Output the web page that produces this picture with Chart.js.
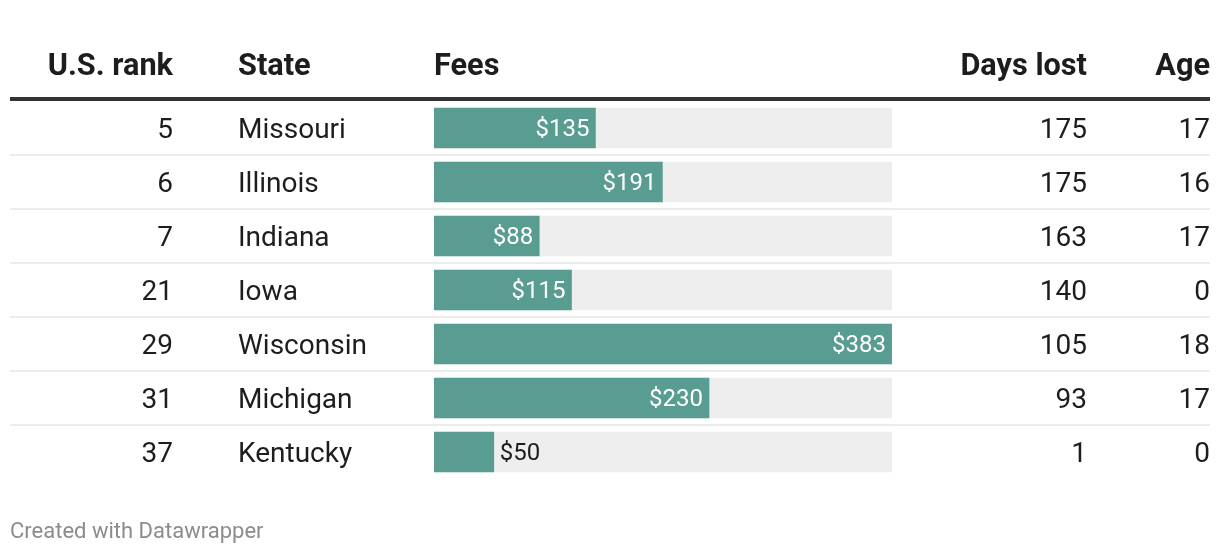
<!DOCTYPE html>
<html>
<head>
<meta charset="utf-8">
<script src="https://cdn.jsdelivr.net/npm/chart.js@4"></script>
<style>
  html, body { margin: 0; padding: 0; background: #fff; }
  #wrap { width: 1220px; height: 554px; position: relative; }
</style>
</head>
<body>
<div id="wrap"><canvas id="myChart"></canvas></div>
<script>
'use strict';
// table data
const ranks = [5, 6, 7, 21, 29, 31, 37];
const states = ['Missouri', 'Illinois', 'Indiana', 'Iowa', 'Wisconsin', 'Michigan', 'Kentucky'];
const fees = [135, 191, 88, 115, 383, 230, 50];
const daysLost = [175, 175, 163, 140, 105, 93, 1];
const ages = [17, 16, 17, 0, 18, 17, 0];
const headers = ['U.S. rank', 'State', 'Fees', 'Days lost', 'Age'];

const feeMax = Math.max(...fees);
const trackValues = fees.map(() => feeMax);

const green = '#599c91';
const font = 'Roboto, "Noto Sans", sans-serif';

// draws header, other columns, row rules and footer round the bar column
const tablePlugin = {
  id: 'tableText',
  beforeDatasetsDraw(chart) {
    const ctx = chart.ctx;
    const y = chart.scales.y;
    const step = y.getPixelForValue(1) - y.getPixelForValue(0);
    ctx.save();
    ctx.fillStyle = '#ececec';
    for (let i = 1; i < states.length; i++) {
      let ly = Math.round(y.getPixelForValue(i) - step / 2);
      ctx.fillRect(10, ly - 1, 1200, 2);
    }
    ctx.fillStyle = '#333';
    ctx.fillRect(10, Math.round(y.getPixelForValue(0) - step / 2) - 4, 1200, 4);
    ctx.restore();
  },
  afterDraw(chart) {
    const ctx = chart.ctx;
    const x = chart.scales.x;
    const y = chart.scales.y;
    ctx.save();
    // header
    ctx.fillStyle = '#1d1d1d';
    ctx.font = 'bold 30.7px ' + font;
    ctx.textBaseline = 'alphabetic';
    ctx.textAlign = 'right';
    ctx.fillText(headers[0], 173, 75);
    ctx.textAlign = 'left';
    ctx.fillText(headers[1], 238, 75);
    ctx.fillText(headers[2], 434, 75);
    ctx.textAlign = 'right';
    ctx.fillText(headers[3], 1087, 75);
    ctx.fillText(headers[4], 1210, 75);

    // rows
    ctx.font = '28px ' + font;
    for (let i = 0; i < states.length; i++) {
      let cy = y.getPixelForValue(i) + 10;
      ctx.fillStyle = '#1d1d1d';
      ctx.textAlign = 'right';
      ctx.fillText(String(ranks[i]), 173, cy);
      ctx.fillText(String(daysLost[i]), 1087, cy);
      ctx.fillText(String(ages[i]), 1210, cy);
      ctx.textAlign = 'left';
      ctx.fillText(states[i], 238, cy);
    }

    // bar labels, inside the bar when there is room
    ctx.font = '24px ' + font;
    for (let i = 0; i < fees.length; i++) {
      let cy = y.getPixelForValue(i) + 8;
      let end = x.getPixelForValue(fees[i]);
      let label = '$' + fees[i];
      let w = ctx.measureText(label).width;
      if (end - x.getPixelForValue(0) > w + 24) {
        ctx.fillStyle = '#ffffff';
        ctx.textAlign = 'right';
        ctx.fillText(label, end - 6, cy);
      } else {
        ctx.fillStyle = '#1d1d1d';
        ctx.textAlign = 'left';
        ctx.fillText(label, end + 6, cy);
      }
    }

    // footer
    ctx.font = '22px ' + font;
    ctx.fillStyle = '#8c8c8c';
    ctx.textAlign = 'left';
    ctx.fillText('Created with Datawrapper', 10, 538);
    ctx.restore();
  }
};

const ctx = document.getElementById('myChart').getContext('2d');
const myChart = new Chart(ctx, {
  type: 'bar',
  data: {
    labels: states,
    datasets: [{
      label: 'Fees',
      data: fees,
      backgroundColor: green,
      barThickness: 40,
      grouped: false,
      order: 1
    }, {
      label: 'track',
      data: trackValues,
      backgroundColor: '#eeeeee',
      barThickness: 40,
      grouped: false,
      order: 2
    }]
  },
  options: {
    indexAxis: 'y',
    responsive: true,
    maintainAspectRatio: false,
    animation: false,
    layout: { padding: { left: 434, right: 328, top: 101, bottom: 75 } },
    scales: {
      x: { display: false, min: 0, max: feeMax, grid: { display: false } },
      y: { display: false, grid: { display: false }, offset: true }
    },
    plugins: {
      legend: { display: false },
      tooltip: { enabled: false }
    }
  },
  plugins: [tablePlugin]
});
</script>
</body>
</html>
